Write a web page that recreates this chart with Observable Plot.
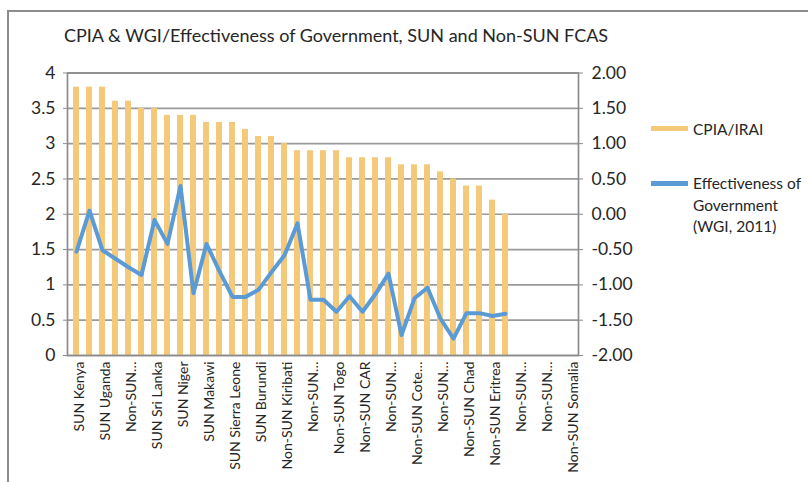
<!DOCTYPE html>
<html><head><meta charset="utf-8">
<script src="https://cdn.jsdelivr.net/npm/d3@7"></script>
<script src="https://cdn.jsdelivr.net/npm/@observablehq/plot@0.6"></script>
<style>
body{margin:0;background:#fff;font-family:Lato,"Open Sans",sans-serif;color:#262626;}
#wrap{position:relative;width:808px;height:482px;overflow:hidden;background:#fff;}
#frame{position:absolute;left:7px;top:10px;width:840px;height:520px;border:2px solid #8c8c8c;box-sizing:border-box;}
#title{position:absolute;left:64px;top:26.3px;font-size:18px;line-height:18px;white-space:nowrap;}
.layer{position:absolute;left:0;top:0;}
.sw{position:absolute;left:651px;width:37px;height:5px;}
.lt{position:absolute;left:693px;font-size:15.5px;line-height:21.5px;white-space:nowrap;}
</style>
</head><body>
<div id="wrap">
  <div id="frame"></div>
  <div id="title">CPIA &amp; WGI/Effectiveness of Government, SUN and Non-SUN FCAS</div>
  <div id="p1" class="layer"></div>
  <div id="p2" class="layer"></div>
  <div class="sw" style="top:125.5px;background:#F4C97A"></div>
  <div class="lt" style="top:119.3px">CPIA/IRAI</div>
  <div class="sw" style="top:180.5px;background:#5B9BD5"></div>
  <div class="lt" style="top:173px">Effectiveness of<br>Government<br>(WGI, 2011)</div>
</div>
<script>
// Category labels (only every other one is shown in the original)
const categories = ["SUN Kenya","","SUN Uganda","","Non-SUN…","","SUN Sri Lanka","","SUN Niger","",
  "SUN Makawi","","SUN Sierra Leone","","SUN Burundi","","Non-SUN Kiribati","","Non-SUN…","",
  "Non-SUN Togo","","Non-SUN CAR","","Non-SUN…","","Non-SUN Cote…","","Non-SUN…","",
  "Non-SUN Chad","","Non-SUN Eritrea","","Non-SUN…","","Non-SUN…","","Non-SUN Somalia"];
// CPIA/IRAI (left axis)
const cpia = [3.8,3.8,3.8,3.6,3.6,3.5,3.5,3.4,3.4,3.4,3.3,3.3,3.3,3.2,3.1,3.1,3.0,2.9,2.9,2.9,
  2.9,2.8,2.8,2.8,2.8,2.7,2.7,2.7,2.6,2.5,2.4,2.4,2.2,2.0];
// Effectiveness of Government (WGI, 2011) (right axis)
const wgi = [-0.53,0.05,-0.51,-0.63,-0.75,-0.86,-0.08,-0.42,0.40,-1.12,-0.42,-0.81,-1.17,-1.17,-1.07,-0.82,-0.58,-0.13,-1.21,-1.21,
  -1.38,-1.16,-1.38,-1.13,-0.84,-1.71,-1.19,-1.04,-1.48,-1.76,-1.40,-1.40,-1.44,-1.41];
const leftTicks = [0,0.5,1,1.5,2,2.5,3,3.5,4];
const rightTicks = [-2,-1.5,-1,-0.5,0,0.5,1,1.5,2];

const W=808,H=482,mL=67,mR=230,mT=72.5,mB=127;
const idx = d3.range(categories.length);
const xOpts = {type:"band", domain:idx, paddingInner:0.56, paddingOuter:0.28, align:0.5, axis:null};
const bars = cpia.map((v,i)=>({i, v}));
const line = wgi.map((v,i)=>({i, v}));
const common = {width:W,height:H,marginLeft:mL,marginRight:mR,marginTop:mT,marginBottom:mB,
  style:{fontFamily:"Lato, 'Open Sans', sans-serif", color:"#262626", background:"transparent", overflow:"visible"}};

const p1 = Plot.plot({...common,
  x: xOpts,
  y: {domain:[0,4], axis:null},
  marks:[
    Plot.ruleY(leftTicks, {stroke:"#9a9a9a", strokeWidth:1.7}),
    Plot.barY(bars, {x:"i", y:"v", fill:"#F4C97A"}),
    Plot.frame({stroke:"#8c8c8c", strokeWidth:1.7}),
    Plot.axisY(leftTicks, {anchor:"left", label:null, tickSize:4, tickPadding:8, stroke:"#8c8c8c", fontSize:17.5, tickFormat:d=>String(d)}),
    Plot.axisX(idx, {anchor:"bottom", label:null, tickSize:0, tickPadding:6, tickRotate:-90, fontSize:14, dx:3, tickFormat:i=>categories[i]})
  ]
});
document.getElementById("p1").appendChild(p1);

const p2 = Plot.plot({...common,
  x: xOpts,
  y: {domain:[-2,2], axis:null},
  marks:[
    Plot.lineY(line, {x:"i", y:"v", stroke:"#5B9BD5", strokeWidth:4}),
    Plot.axisY(rightTicks, {anchor:"right", label:null, tickSize:4, tickPadding:9, stroke:"#8c8c8c", fontSize:17.5, tickFormat:d=>d.toFixed(2)})
  ]
});
document.getElementById("p2").appendChild(p2);
</script>
</body></html>
